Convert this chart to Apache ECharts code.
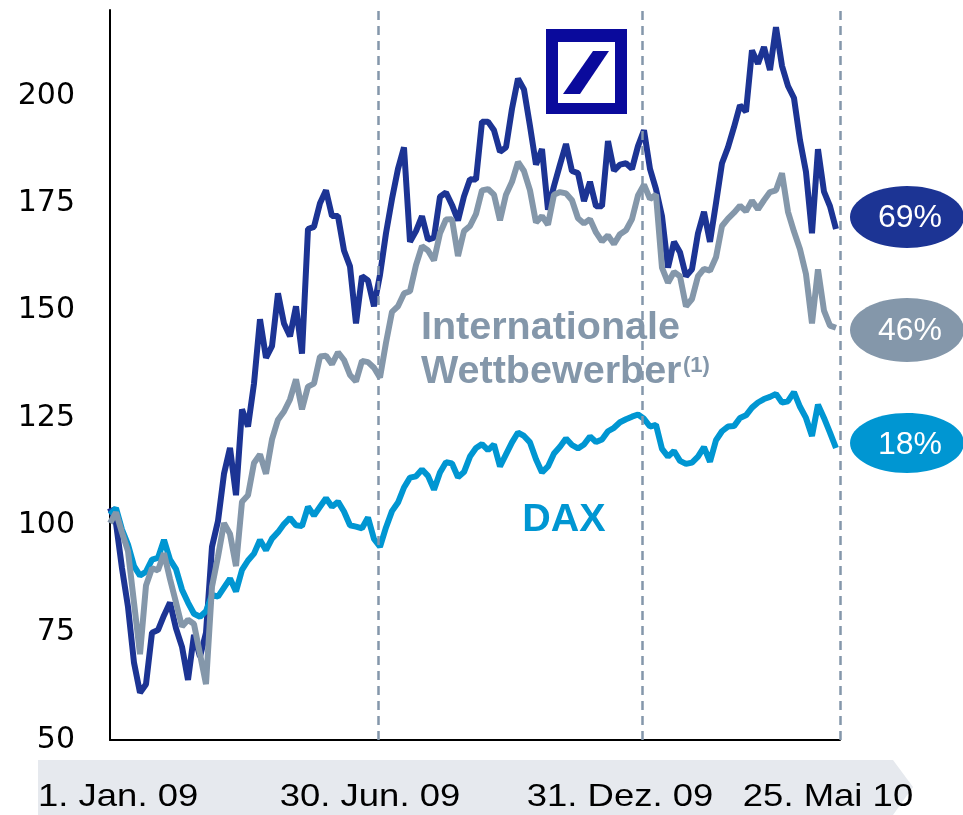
<!DOCTYPE html>
<html>
<head>
<meta charset="utf-8">
<script src="https://cdn.jsdelivr.net/npm/echarts@6/dist/echarts.min.js"></script>
<style>
  html, body { margin: 0; padding: 0; background: #fff; }
  #box { width: 963px; height: 815px; }
</style>
</head>
<body>
<div id="box"></div>
<script>
// Indexierte Kursentwicklung (1. Jan. 09 = 100)
var dbValues = [104, 100.5, 90, 81, 68, 61, 63, 75, 75.6, 79, 82, 76, 71.7, 64, 74.5, 69.4, 75, 95, 101, 112,
  118, 107, 127, 123, 133, 148, 139, 141.7, 154, 147, 144, 151, 140, 169, 169.5, 175, 178, 172, 172, 164,
  160.3, 147, 158, 157, 151, 158.3, 168, 176, 183, 188, 166, 168.5, 172, 166.5, 167, 176.5, 177.5, 174.6, 171, 176.6,
  180.6, 180.5, 194, 194, 192, 187, 188, 197, 204, 201.5, 193, 184, 187.6, 173.5, 179, 184, 188.8, 182.5, 182, 175.5,
  180, 174.3, 174.3, 189.5, 182.6, 184, 184.3, 183, 188.3, 192, 183, 178.3, 172, 160, 166, 163.6, 158, 159.6, 168, 173,
  166, 175, 184.3, 188, 192.7, 197.8, 196.3, 210.6, 207.5, 211.4, 206, 216, 207, 202.3, 199.5, 189.7, 182.3, 168, 187.6, 177.7,
  174.3, 169];

var intValues = [100.5, 103, 98.3, 94, 82, 70, 86, 90, 89.5, 93.5, 87.5, 82, 76.4, 78, 77, 70, 63, 85.7, 92.7, 100.5,
  98, 90.5, 105.5, 107, 114.5, 116.5, 112, 120, 124.6, 126.5, 129.3, 134, 127, 132.3, 133, 139.3, 139.5, 137.5, 140.3, 138.5,
  135, 133.5, 138.3, 138, 136.7, 134.4, 142.5, 149.7, 151, 154, 154.5, 160.6, 165, 164, 161.7, 168, 171.2, 171.3, 162.7, 168.5,
  169.7, 172.5, 178, 178.3, 177, 171, 177, 180, 184.6, 182.5, 178, 170.5, 172, 170, 177, 177.6, 177.3, 175.7, 171.5, 170.3,
  171.3, 168.2, 166.1, 167.5, 165.5, 167.8, 168.7, 171.3, 176.8, 179.3, 176, 177, 160, 156.5, 159, 158, 151, 152.7, 158, 159.7,
  159.3, 162.4, 169.7, 171.4, 172.8, 174.4, 173.1, 175.6, 173.6, 175.7, 177.6, 178, 182, 173, 168.4, 164.3, 158.5, 147, 159.6, 150,
  146.5, 146];

var daxValues = [102.5, 104, 99, 95.5, 90.5, 88.3, 89.2, 92, 92.4, 96.6, 92, 89.8, 85, 82, 79.4, 78.7, 80, 83.8, 83.4, 85.5,
  87.6, 84.6, 89.6, 91.8, 93.4, 96.6, 94.2, 96.9, 98.4, 100.3, 101.7, 100, 99.8, 104.3, 102.3, 104.3, 106.3, 104.3, 105.5, 103.2,
  100, 99.7, 99.3, 101.8, 96.8, 95, 99.5, 103.3, 105.3, 108.8, 111.1, 111.4, 113, 111.5, 108.3, 112.3, 114.7, 114.4, 111.2, 112.4,
  116, 118, 118.9, 117.5, 118.8, 113.7, 116.5, 119.3, 121.6, 120.8, 119.3, 115.4, 112.3, 113.7, 116.7, 118.3, 120.2, 118.7, 117.9, 118.8,
  120.7, 119.4, 120, 121.9, 122.7, 124, 124.7, 125.3, 125.8, 124.8, 123, 123.4, 117.8, 116, 117.3, 115, 114.3, 114.6, 116, 118.2,
  114.8, 119.8, 121.9, 123, 123.1, 125, 125.6, 127.4, 128.6, 129.4, 129.9, 130.6, 128.6, 128.9, 131, 127.6, 125, 120.8, 128.1, 125,
  121.6, 118];

// Stichtage (Position auf der Zeitachse) und Beschriftungen
var dividerIdx = [44.67, 88.67, 121.67];
var tickLabels = ['1. Jan. 09', '30. Jun. 09', '31. Dez. 09', '25. Mai 10'];
var endLabels = ['69%', '46%', '18%'];
var seriesNames = ['Deutsche Bank', 'DAX', 'Internationale Wettbewerber'];

var cDB = '#1c3494', cINT = '#8497aa', cDAX = '#0096d2';
var plainFont = '"Liberation Sans", Arial, sans-serif';

function pairs(arr) {
  return arr.map(function (v, i) { return [i, v]; });
}

// Datumsbeschriftung im Zeitpfeil (leicht breit gezogen wie im Original)
function dateText(txt, x, align) {
  return {
    type: 'text', z: 2, x: x, y: 797, scaleX: 1.14,
    style: { text: txt, x: 0, y: 0, fill: '#000', font: '32px ' + plainFont, textAlign: align, textVerticalAlign: 'middle' }
  };
}

var myChart = echarts.init(document.getElementById('box'));

var option = {
  animation: false,
  grid: { left: 110, top: 10, width: 730, height: 730 },
  xAxis: {
    type: 'value',
    min: 0,
    max: dividerIdx[2],
    axisLine: { show: true, onZero: false, lineStyle: { color: '#000', width: 2 } },
    axisTick: { show: false },
    axisLabel: { show: false },
    splitLine: { show: false }
  },
  yAxis: {
    type: 'value',
    min: 50,
    max: 220,
    interval: 25,
    axisLine: { show: true, lineStyle: { color: '#000', width: 2 } },
    axisTick: { show: false },
    splitLine: { show: false },
    axisLabel: {
      color: '#000',
      fontSize: 30,
      fontFamily: '"DejaVu Sans", sans-serif',
      margin: 35,
      formatter: function (v) { return v % 25 === 0 ? v : ''; }
    }
  },
  series: [
    {
      name: seriesNames[0], type: 'line', showSymbol: false,
      data: pairs(dbValues),
      lineStyle: { color: cDB, width: 6 },
      markLine: {
        silent: true, symbol: 'none',
        label: { show: false },
        lineStyle: { color: '#8497ab', width: 2.5, type: [9, 6] },
        data: dividerIdx.map(function (d) { return { xAxis: d }; })
      }
    },
    {
      name: seriesNames[1], type: 'line', showSymbol: false,
      data: pairs(daxValues),
      lineStyle: { color: cDAX, width: 6 }
    },
    {
      name: seriesNames[2], type: 'line', showSymbol: false,
      data: pairs(intValues),
      lineStyle: { color: cINT, width: 6 }
    }
  ],
  graphic: [
    // Zeitpfeil unten
    { type: 'polygon', z: 1, shape: { points: [[38, 760], [893, 760], [913, 787], [893, 815], [38, 815]] }, style: { fill: '#e6e9ee' } },
    dateText(tickLabels[0], 38, 'left'),
    dateText(tickLabels[1], 370, 'center'),
    dateText(tickLabels[2], 620, 'center'),
    dateText(tickLabels[3], 828, 'center'),

    // Deutsche Bank Logo
    { type: 'rect', z: 5, shape: { x: 546, y: 29, width: 81, height: 85 }, style: { fill: '#0a0a9c' } },
    { type: 'rect', z: 6, shape: { x: 558, y: 42, width: 57, height: 61 }, style: { fill: '#fff' } },
    { type: 'polygon', z: 7, shape: { points: [[563, 94], [580, 94], [609, 51], [593, 51]] }, style: { fill: '#0a0a9c' } },

    // Serienbeschriftungen
    { type: 'text', z: 5, style: { text: 'Internationale', x: 421, y: 328, fill: cINT, font: 'bold 39.5px ' + plainFont, textAlign: 'left', textVerticalAlign: 'middle' } },
    { type: 'text', z: 5, style: { text: 'Wettbewerber', x: 421, y: 372, fill: cINT, font: 'bold 39.5px ' + plainFont, textAlign: 'left', textVerticalAlign: 'middle' } },
    { type: 'text', z: 5, style: { text: '(1)', x: 683, y: 366, fill: cINT, font: 'bold 22px ' + plainFont, textAlign: 'left', textVerticalAlign: 'middle' } },
    { type: 'text', z: 5, style: { text: 'DAX', x: 564, y: 520, fill: cDAX, font: 'bold 39.5px ' + plainFont, textAlign: 'center', textVerticalAlign: 'middle' } },

    // Veränderung in Prozent
    { type: 'ellipse', z: 5, shape: { cx: 907, cy: 217, rx: 57, ry: 31 }, style: { fill: cDB } },
    { type: 'text', z: 6, style: { text: endLabels[0], x: 910, y: 218, fill: '#fff', font: '32px ' + plainFont, textAlign: 'center', textVerticalAlign: 'middle' } },
    { type: 'ellipse', z: 5, shape: { cx: 907, cy: 330, rx: 57, ry: 32 }, style: { fill: cINT } },
    { type: 'text', z: 6, style: { text: endLabels[1], x: 910, y: 331, fill: '#fff', font: '32px ' + plainFont, textAlign: 'center', textVerticalAlign: 'middle' } },
    { type: 'ellipse', z: 5, shape: { cx: 907, cy: 443, rx: 57, ry: 30 }, style: { fill: cDAX } },
    { type: 'text', z: 6, style: { text: endLabels[2], x: 910, y: 445, fill: '#fff', font: '32px ' + plainFont, textAlign: 'center', textVerticalAlign: 'middle' } }
  ]
};

myChart.setOption(option);
</script>
</body>
</html>
